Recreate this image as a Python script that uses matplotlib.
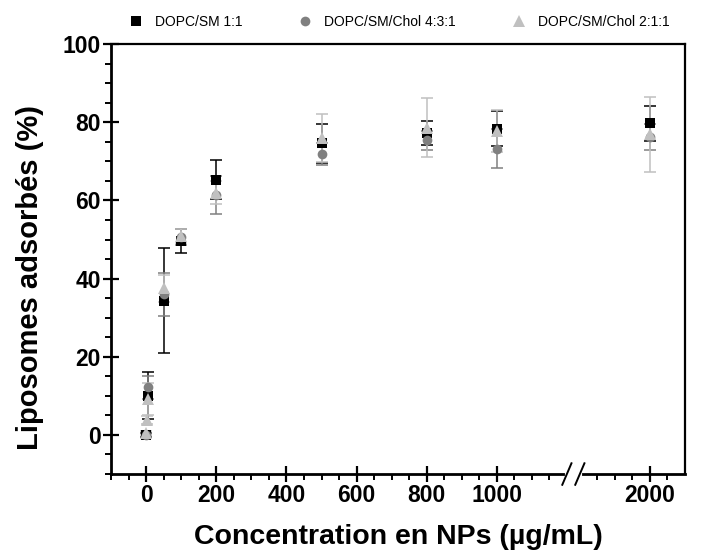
import matplotlib
matplotlib.use('Agg')

import matplotlib.pyplot as plt
import numpy as np
from matplotlib.ticker import FixedLocator, MultipleLocator
from matplotlib.lines import Line2D

plt.rcParams['font.family'] = ['Liberation Sans', 'DejaVu Sans']

# ---------------- data ----------------
x_sq = [0, 5, 50, 100, 200, 500, 800, 1000, 2000]
y_sq = [0.0, 10.0, 34.4, 49.6, 65.3, 74.6, 77.3, 78.4, 79.7]
e_sq = [0.5, 6.0, 13.5, 3.0, 5.0, 5.0, 3.1, 4.5, 4.6]

x_ci = [0, 5, 50, 100, 200, 500, 800, 1000, 2000]
y_ci = [0.0, 12.2, 36.0, 50.6, 61.4, 72.0, 75.4, 73.2, 76.3]
e_ci = [0.5, 3.0, 5.5, 2.0, 4.8, 2.8, 2.5, 5.0, 3.3]

x_tr = [0, 1, 5, 50, 100, 200, 500, 800, 1000, 2000]
y_tr = [0.5, 3.8, 9.2, 37.5, 51.0, 62.0, 76.0, 78.6, 77.8, 76.9]
e_tr = [0.5, 1.0, 4.0, 3.5, 1.8, 3.0, 6.2, 7.6, 5.4, 9.6]

labels = ['DOPC/SM 1:1', 'DOPC/SM/Chol 4:3:1', 'DOPC/SM/Chol 2:1:1']
colors = ['#000000', '#808080', '#c0c0c0']
markers = ['s', 'o', '^']

major_x = [0, 200, 400, 600, 800, 1000, 2000]
minor_x = [v for v in range(-100, 1200, 50) if v not in major_x] + [1850, 1900, 1950, 2050]

# broken axis: -100..1200 | 1800..2100
B1, B2, GAP = 1200.0, 1800.0, 37.0


def fwd(x):
    x = np.asarray(x, dtype=float)
    return np.where(x <= B1, x,
                    np.where(x >= B2, x - (B2 - B1) + GAP,
                             B1 + (x - B1) * GAP / (B2 - B1)))


def inv(y):
    y = np.asarray(y, dtype=float)
    return np.where(y <= B1, y,
                    np.where(y >= B1 + GAP, y + (B2 - B1) - GAP,
                             B1 + (y - B1) * (B2 - B1) / GAP))


fig = plt.figure(figsize=(7.04, 5.59), dpi=100)
ax = fig.add_axes([0.158, 0.152, 0.815, 0.769])
ax.set_xscale('function', functions=(fwd, inv))

series = [(x_sq, y_sq, e_sq), (x_ci, y_ci, e_ci), (x_tr, y_tr, e_tr)]
handles = []
for (xs, ys, es), lab, c, m in zip(series, labels, colors, markers):
    ax.errorbar(xs, ys, yerr=es, fmt='none', ecolor=c, elinewidth=1.1,
                capsize=4, capthick=1.1, zorder=2)
    ax.plot(xs, ys, linestyle='none', marker=m, color=c, markersize=8 if m == '^' else 7,
            markeredgewidth=0, zorder=3)
    handles.append(Line2D([], [], linestyle='none', marker=m, color=c,
                          markersize=8 if m == '^' else 7, markeredgewidth=0, label=lab))

ax.set_xlim(-100, 2100)
ax.set_ylim(-10, 100)
ax.xaxis.set_major_locator(FixedLocator(major_x))
ax.xaxis.set_minor_locator(FixedLocator(minor_x))
ax.yaxis.set_major_locator(MultipleLocator(20))
ax.yaxis.set_minor_locator(MultipleLocator(5))
ax.set_xticklabels([str(v) for v in major_x])

ax.tick_params(which='major', direction='inout', length=11, width=1.6,
               labelsize=16.5, pad=2)
ax.tick_params(which='minor', direction='out', length=4, width=1.4)
for lbl in ax.get_xticklabels() + ax.get_yticklabels():
    lbl.set_fontweight('bold')

for s in ['left', 'bottom']:
    ax.spines[s].set_linewidth(2.0)
for s in ['top', 'right']:
    ax.spines[s].set_linewidth(1.6)

# break marks on the x axis
lo = (fwd(B1) - fwd(-100)) / (fwd(2100) - fwd(-100))
hi = (fwd(B2) - fwd(-100)) / (fwd(2100) - fwd(-100))
ax.plot([lo, hi], [0, 0], transform=ax.transAxes, color='white', lw=3,
        clip_on=False, zorder=5)
for p in (lo, hi):
    ax.plot([p - 0.008, p + 0.008], [-0.025, 0.025], transform=ax.transAxes,
            color='black', lw=1.4, clip_on=False, zorder=6)

ax.set_xlabel('Concentration en NPs (µg/mL)', fontsize=20.5, fontweight='bold', labelpad=12)
ax.set_ylabel('Liposomes adsorbés (%)', fontsize=21, fontweight='bold', labelpad=8)
ax.yaxis.set_label_coords(-0.118, 0.457)

fig.legend(handles=handles, loc='upper left', bbox_to_anchor=(0.165, 0.995), ncol=3,
           frameon=False, fontsize=10, handletextpad=0.9, columnspacing=4.0,
           handlelength=1.0)

fig.savefig('out.png', dpi=100)
